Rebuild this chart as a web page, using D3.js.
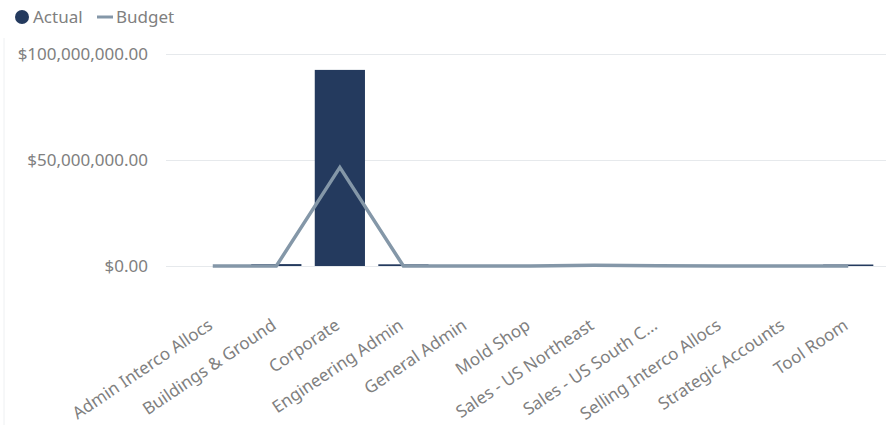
<!DOCTYPE html>
<html>
<head>
<meta charset="utf-8">
<script src="https://cdn.jsdelivr.net/npm/d3@7"></script>
<style>
  html, body { margin: 0; padding: 0; background: #fff; }
  svg { display: block; }
  svg text { font-family: "Noto Sans", "Open Sans", sans-serif; }
</style>
</head>
<body>
<svg id="chart" width="886" height="425"></svg>
<script>
// Department spend: actual vs budget
const categories = [
  "Admin Interco Allocs", "Buildings & Ground", "Corporate", "Engineering Admin",
  "General Admin", "Mold Shop", "Sales - US Northeast", "Sales - US South C...",
  "Selling Interco Allocs", "Strategic Accounts", "Tool Room"
];
const actualValues = [0, 900000, 92500000, 800000, 100000, 100000, 300000, 200000, 0, 100000, 700000];
const budgetValues = [0, 0, 46500000, 0, 0, 0, 300000, 100000, 0, 0, 0];
const yTicks = [0, 50000000, 100000000];
const seriesNames = ["Actual", "Budget"];

const colors = { actual: "#243A5E", budget: "#8497A8", text: "#808080", grid: "#e6e9ec" };

const svg = d3.select("#chart");
const W = 886, H = 425;
const plot = { left: 181, right: 880, top: 54, bottom: 266 };
const fontSize = "17px";

const x = d3.scaleBand().domain(categories).range([plot.left, plot.right]).paddingInner(0.21).paddingOuter(0.105);
const y = d3.scaleLinear().domain([0, 100000000]).range([plot.bottom, plot.top]);

// faint frame edge on the left
svg.append("line").attr("x1", 4).attr("x2", 4).attr("y1", 38).attr("y2", H)
  .attr("stroke", "#eef0f2").attr("stroke-width", 1);

// y axis: gridlines + labels
const fmt = v => "$" + d3.format(",.2f")(v);
const yAxis = d3.axisLeft(y).tickValues(yTicks).tickFormat(fmt).tickSize(-(W - 166)).tickPadding(18);
const gy = svg.append("g").attr("transform", "translate(166,0)").call(yAxis);
gy.select(".domain").remove();
gy.selectAll(".tick line").attr("stroke", colors.grid).attr("stroke-width", 1);
gy.selectAll(".tick text").attr("fill", colors.text).style("font-size", fontSize)
  .style("font-family", "'Noto Sans', sans-serif");

// bars
svg.append("g").selectAll("rect").data(categories).join("rect")
  .attr("x", d => x(d))
  .attr("width", x.bandwidth())
  .attr("y", (d, i) => y(Math.max(actualValues[i], 0)))
  .attr("height", (d, i) => Math.max(y(0) - y(actualValues[i]), 0))
  .attr("fill", colors.actual);

// budget line
const line = d3.line()
  .x((d, i) => x(categories[i]) + x.bandwidth() / 2)
  .y(d => y(d));
svg.append("path").datum(budgetValues)
  .attr("d", line)
  .attr("fill", "none")
  .attr("stroke", colors.budget)
  .attr("stroke-width", 3.5)
  .attr("stroke-linejoin", "miter")
  .attr("stroke-linecap", "butt");

// x axis labels
const xAxis = d3.axisBottom(x).tickSize(0).tickPadding(0);
const gx = svg.append("g").attr("transform", `translate(0,${plot.bottom})`).call(xAxis);
gx.select(".domain").remove();
gx.selectAll(".tick text")
  .attr("fill", colors.text)
  .style("font-size", fontSize)
  .style("font-family", "'Noto Sans', sans-serif")
  .attr("text-anchor", "end")
  .attr("dy", "0")
  .attr("transform", "translate(1,62) rotate(-34)");

// legend
const lg = svg.append("g").attr("transform", "translate(0,17)");
lg.append("circle").attr("cx", 22).attr("cy", 0).attr("r", 7).attr("fill", colors.actual);
lg.append("text").attr("x", 33).attr("y", 6).text(seriesNames[0])
  .attr("fill", colors.text).style("font-size", fontSize);
lg.append("line").attr("x1", 97).attr("x2", 113).attr("y1", 0).attr("y2", 0)
  .attr("stroke", colors.budget).attr("stroke-width", 3);
lg.append("text").attr("x", 116).attr("y", 6).text(seriesNames[1])
  .attr("fill", colors.text).style("font-size", fontSize);
</script>
</body>
</html>
